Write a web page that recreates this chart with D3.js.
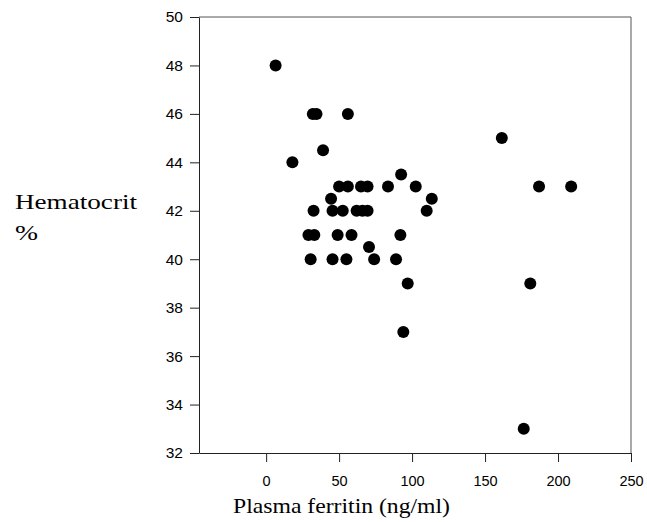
<!DOCTYPE html>
<html>
<head>
<meta charset="utf-8">
<script src="https://cdn.jsdelivr.net/npm/d3@7/dist/d3.min.js"></script>
<style>
  html, body { margin: 0; padding: 0; background: #fff; }
  svg { display: block; }
</style>
</head>
<body>
<svg id="chart" width="647" height="522"></svg>
<script>
// Plasma ferritin (ng/ml) values
const ferritin = [6.5, 18, 32, 34.5, 56, 39, 44.5,
  50, 56, 65, 69.5, 83.5, 102.5, 187, 209,
  92.5, 113.5, 110, 161.5,
  32.5, 45.5, 52.5, 62, 66, 69.5,
  29, 33, 49, 58.5, 92,
  70.5,
  30.5, 45.5, 55, 74, 89,
  97, 181, 94, 176.5];
// Hematocrit (%) values
const hematocrit = [48, 44, 46, 46, 46, 44.5, 42.5,
  43, 43, 43, 43, 43, 43, 43, 43,
  43.5, 42.5, 42, 45,
  42, 42, 42, 42, 42, 42,
  41, 41, 41, 41, 41,
  40.5,
  40, 40, 40, 40, 40,
  39, 39, 37, 33];
const xTicks = [0, 50, 100, 150, 200, 250];
const yTicks = [32, 34, 36, 38, 40, 42, 44, 46, 48, 50];
const xTitle = "Plasma ferritin (ng/ml)";
const yTitle1 = "Hematocrit";
const yTitle2 = "%";

const svg = d3.select("#chart");
const x = d3.scaleLinear().domain([-46, 250]).range([199, 631]);
const y = d3.scaleLinear().domain([32, 50]).range([453, 17]);

// frame (top & right)
svg.append("line").attr("x1", 199).attr("x2", 631).attr("y1", 17).attr("y2", 17)
  .attr("stroke", "#555").attr("stroke-width", 1);
svg.append("line").attr("x1", 631).attr("x2", 631).attr("y1", 17).attr("y2", 453)
  .attr("stroke", "#555").attr("stroke-width", 1);

const yAxis = svg.append("g").attr("transform", "translate(199,0)")
  .call(d3.axisLeft(y).tickValues(yTicks).tickSize(9).tickSizeOuter(0).tickPadding(7).tickFormat(d3.format("d")));
const xAxis = svg.append("g").attr("transform", "translate(0,453)")
  .call(d3.axisBottom(x).tickValues(xTicks).tickSize(9).tickSizeOuter(0).tickPadding(14).tickFormat(d3.format("d")));

[yAxis, xAxis].forEach(g => {
  g.selectAll("path,line").attr("stroke", "#222").attr("stroke-width", 1);
  g.selectAll("text").attr("fill", "#000")
    .style("font-family", "'Liberation Sans', Arial, sans-serif");
});
yAxis.selectAll("text").style("font-size", "15.5px");
xAxis.selectAll("text").style("font-size", "14.5px");

// points
svg.append("g").selectAll("circle")
  .data(ferritin.map((f, i) => [f, hematocrit[i]]))
  .join("circle")
  .attr("cx", d => x(d[0]))
  .attr("cy", d => y(d[1]))
  .attr("r", 6)
  .attr("fill", "#000");

// titles
const serif = "'Liberation Serif', 'Times New Roman', serif";
svg.append("text").attr("x", 233).attr("y", 513)
  .attr("textLength", 217).attr("lengthAdjust", "spacingAndGlyphs")
  .style("font-family", serif).style("font-size", "21px").attr("fill", "#000")
  .text(xTitle);
svg.append("text").attr("x", 15).attr("y", 209)
  .attr("textLength", 122).attr("lengthAdjust", "spacingAndGlyphs")
  .style("font-family", serif).style("font-size", "21px").attr("fill", "#000")
  .text(yTitle1);
svg.append("text").attr("x", 15).attr("y", 240)
  .attr("textLength", 23).attr("lengthAdjust", "spacingAndGlyphs")
  .style("font-family", serif).style("font-size", "21px").attr("fill", "#000")
  .text(yTitle2);
</script>
</body>
</html>
